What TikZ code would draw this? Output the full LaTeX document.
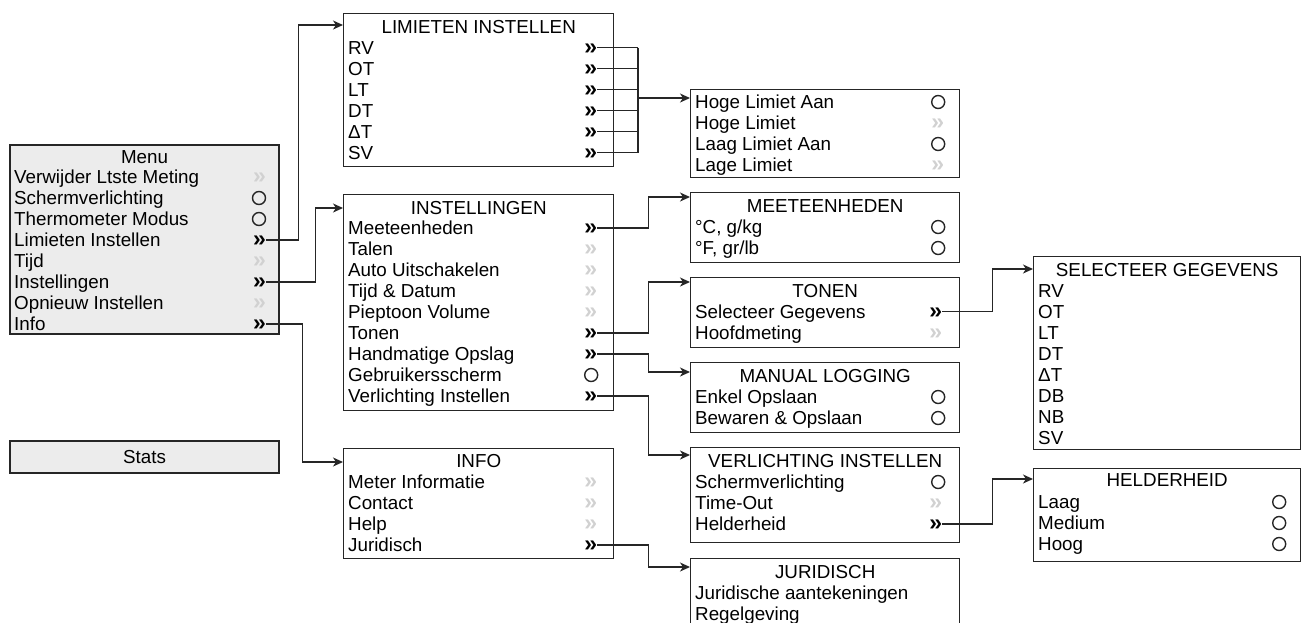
\documentclass[tikz,border=0pt]{standalone}
\usepackage{fontspec}
\setmainfont{Liberation Sans}
\usetikzlibrary{arrows.meta, positioning}
\tikzset{
  mn box/.style={
    rectangle, draw=black!85, line width=1.4pt,
    anchor=north west, inner sep=0pt
  },
  mn main/.style={
    mn box, fill=gray!15, line width=2.2pt
  },
  mn title/.style={
    inner sep=0pt, text height=13.2pt, text depth=0pt
  },
  mn item/.style={
    anchor=west, inner xsep=0pt, inner ysep=3.7pt,
    text height=13.2pt, text depth=0pt
  },
  mn more/.style={
    anchor=east, inner sep=0pt, text height=13.2pt, text depth=0pt,
    font=\fontsize{23}{23}\selectfont\bfseries
  },
  mn off/.style={
    mn more, text=black!18
  },
  mn opt/.style={
    circle, draw=black!85, line width=1.4pt,
    minimum size=13pt, inner sep=0pt, anchor=east
  },
  mn line/.style={
    line width=1.4pt, draw=black!85
  },
  mn arrow/.style={
    mn line, -{Stealth[length=10pt,width=9pt,inset=3pt]}
  }
}

\begin{document}
\begin{tikzpicture}[x=1pt, y=-1pt, node distance=0pt, font=\fontsize{18.8}{20}\selectfont]
  \useasboundingbox (0,0) rectangle (1301,622);
  \clip (0,0) rectangle (1301,622);

  % main menu
  \node (menu) [mn main, minimum width=269pt, minimum height=189pt] at (9,144) {};
  \node (menu-t) [mn title] at ([yshift=-13pt]menu.north) {Menu};
  \node (menu-ver) [mn item] at ([xshift=5pt,yshift=-33pt]menu.north west) {Verwijder Ltste Meting};
  \node (menu-sch) [mn item, below=of menu-ver.south west, anchor=north west] {Schermverlichting};
  \node (menu-the) [mn item, below=of menu-sch.south west, anchor=north west] {Thermometer Modus};
  \node (menu-lim) [mn item, below=of menu-the.south west, anchor=north west] {Limieten Instellen};
  \node (menu-tij) [mn item, below=of menu-lim.south west, anchor=north west] {Tijd};
  \node (menu-ins) [mn item, below=of menu-tij.south west, anchor=north west] {Instellingen};
  \node (menu-opn) [mn item, below=of menu-ins.south west, anchor=north west] {Opnieuw Instellen};
  \node (menu-inf) [mn item, below=of menu-opn.south west, anchor=north west] {Info};
  \node (menu-ver-m) [mn off, xshift=-14pt] at (menu.east |- menu-ver) {»};
  \node (menu-sch-m) [mn opt, xshift=-14pt] at (menu.east |- menu-sch) {};
  \node (menu-the-m) [mn opt, xshift=-14pt] at (menu.east |- menu-the) {};
  \node (menu-lim-m) [mn more, xshift=-14pt] at (menu.east |- menu-lim) {»};
  \node (menu-tij-m) [mn off, xshift=-14pt] at (menu.east |- menu-tij) {»};
  \node (menu-ins-m) [mn more, xshift=-14pt] at (menu.east |- menu-ins) {»};
  \node (menu-opn-m) [mn off, xshift=-14pt] at (menu.east |- menu-opn) {»};
  \node (menu-inf-m) [mn more, xshift=-14pt] at (menu.east |- menu-inf) {»};

  \node (stats) [mn main, minimum width=269pt, minimum height=32pt,
    text height=13.2pt, text depth=0pt] at (9,440) {Stats};

  % limieten instellen
  \node (lim) [mn box, minimum width=270pt, minimum height=153pt] at (343,13) {};
  \node (lim-t) [mn title] at ([yshift=-14pt]lim.north) {LIMIETEN INSTELLEN};
  \node (lim-rv) [mn item] at ([xshift=5pt,yshift=-34.5pt]lim.north west) {RV};
  \node (lim-ot) [mn item, below=of lim-rv.south west, anchor=north west] {OT};
  \node (lim-lt) [mn item, below=of lim-ot.south west, anchor=north west] {LT};
  \node (lim-dt) [mn item, below=of lim-lt.south west, anchor=north west] {DT};
  \node (lim-del) [mn item, below=of lim-dt.south west, anchor=north west] {ΔT};
  \node (lim-sv) [mn item, below=of lim-del.south west, anchor=north west] {SV};
  \node (lim-rv-m) [mn more, xshift=-17pt] at (lim.east |- lim-rv) {»};
  \node (lim-ot-m) [mn more, xshift=-17pt] at (lim.east |- lim-ot) {»};
  \node (lim-lt-m) [mn more, xshift=-17pt] at (lim.east |- lim-lt) {»};
  \node (lim-dt-m) [mn more, xshift=-17pt] at (lim.east |- lim-dt) {»};
  \node (lim-del-m) [mn more, xshift=-17pt] at (lim.east |- lim-del) {»};
  \node (lim-sv-m) [mn more, xshift=-17pt] at (lim.east |- lim-sv) {»};

  % instellingen
  \node (ins) [mn box, minimum width=270pt, minimum height=216pt] at (343,194) {};
  \node (ins-t) [mn title] at ([yshift=-14pt]ins.north) {INSTELLINGEN};
  \node (ins-mee) [mn item] at ([xshift=5pt,yshift=-34pt]ins.north west) {Meeteenheden};
  \node (ins-tal) [mn item, below=of ins-mee.south west, anchor=north west] {Talen};
  \node (ins-aut) [mn item, below=of ins-tal.south west, anchor=north west] {Auto Uitschakelen};
  \node (ins-tij) [mn item, below=of ins-aut.south west, anchor=north west] {Tijd \& Datum};
  \node (ins-pie) [mn item, below=of ins-tij.south west, anchor=north west] {Pieptoon Volume};
  \node (ins-ton) [mn item, below=of ins-pie.south west, anchor=north west] {Tonen};
  \node (ins-han) [mn item, below=of ins-ton.south west, anchor=north west] {Handmatige Opslag};
  \node (ins-geb) [mn item, below=of ins-han.south west, anchor=north west] {Gebruikersscherm};
  \node (ins-ver) [mn item, below=of ins-geb.south west, anchor=north west] {Verlichting Instellen};
  \node (ins-mee-m) [mn more, xshift=-17pt] at (ins.east |- ins-mee) {»};
  \node (ins-tal-m) [mn off, xshift=-17pt] at (ins.east |- ins-tal) {»};
  \node (ins-aut-m) [mn off, xshift=-17pt] at (ins.east |- ins-aut) {»};
  \node (ins-tij-m) [mn off, xshift=-17pt] at (ins.east |- ins-tij) {»};
  \node (ins-pie-m) [mn off, xshift=-17pt] at (ins.east |- ins-pie) {»};
  \node (ins-ton-m) [mn more, xshift=-17pt] at (ins.east |- ins-ton) {»};
  \node (ins-han-m) [mn more, xshift=-17pt] at (ins.east |- ins-han) {»};
  \node (ins-geb-m) [mn opt, xshift=-16pt] at (ins.east |- ins-geb) {};
  \node (ins-ver-m) [mn more, xshift=-17pt] at (ins.east |- ins-ver) {»};

  % info
  \node (inf) [mn box, minimum width=270pt, minimum height=110pt] at (343,448) {};
  \node (inf-t) [mn title] at ([yshift=-13pt]inf.north) {INFO};
  \node (inf-met) [mn item] at ([xshift=5pt,yshift=-34pt]inf.north west) {Meter Informatie};
  \node (inf-con) [mn item, below=of inf-met.south west, anchor=north west] {Contact};
  \node (inf-hel) [mn item, below=of inf-con.south west, anchor=north west] {Help};
  \node (inf-jur) [mn item, below=of inf-hel.south west, anchor=north west] {Juridisch};
  \node (inf-met-m) [mn off, xshift=-17pt] at (inf.east |- inf-met) {»};
  \node (inf-con-m) [mn off, xshift=-17pt] at (inf.east |- inf-con) {»};
  \node (inf-hel-m) [mn off, xshift=-17pt] at (inf.east |- inf-hel) {»};
  \node (inf-jur-m) [mn more, xshift=-17pt] at (inf.east |- inf-jur) {»};

  % limiet
  \node (hoge) [mn box, minimum width=269pt, minimum height=88pt] at (690,89) {};
  \node (hoge-ha) [mn item] at ([xshift=5pt,yshift=-13pt]hoge.north west) {Hoge Limiet Aan};
  \node (hoge-hl) [mn item, below=of hoge-ha.south west, anchor=north west] {Hoge Limiet};
  \node (hoge-la) [mn item, below=of hoge-hl.south west, anchor=north west] {Laag Limiet Aan};
  \node (hoge-ll) [mn item, below=of hoge-la.south west, anchor=north west] {Lage Limiet};
  \node (hoge-ha-m) [mn opt, xshift=-15pt] at (hoge.east |- hoge-ha) {};
  \node (hoge-hl-m) [mn off, xshift=-16pt] at (hoge.east |- hoge-hl) {»};
  \node (hoge-la-m) [mn opt, xshift=-15pt] at (hoge.east |- hoge-la) {};
  \node (hoge-ll-m) [mn off, xshift=-16pt] at (hoge.east |- hoge-ll) {»};

  % meeteenheden
  \node (mee) [mn box, minimum width=269pt, minimum height=70pt] at (690,192) {};
  \node (mee-t) [mn title] at ([yshift=-14pt]mee.north) {MEETEENHEDEN};
  \node (mee-c) [mn item] at ([xshift=5pt,yshift=-35pt]mee.north west) {°C, g/kg};
  \node (mee-f) [mn item, below=of mee-c.south west, anchor=north west] {°F, gr/lb};
  \node (mee-c-m) [mn opt, xshift=-15pt] at (mee.east |- mee-c) {};
  \node (mee-f-m) [mn opt, xshift=-15pt] at (mee.east |- mee-f) {};

  % tonen
  \node (ton) [mn box, minimum width=269pt, minimum height=70pt] at (690,277) {};
  \node (ton-t) [mn title] at ([yshift=-14pt]ton.north) {TONEN};
  \node (ton-sel) [mn item] at ([xshift=5pt,yshift=-34.5pt]ton.north west) {Selecteer Gegevens};
  \node (ton-hoo) [mn item, below=of ton-sel.south west, anchor=north west] {Hoofdmeting};
  \node (ton-sel-m) [mn more, xshift=-18pt] at (ton.east |- ton-sel) {»};
  \node (ton-hoo-m) [mn off, xshift=-18pt] at (ton.east |- ton-hoo) {»};

  % manual logging
  \node (man) [mn box, minimum width=269pt, minimum height=70pt] at (690,362) {};
  \node (man-t) [mn title] at ([yshift=-14pt]man.north) {MANUAL LOGGING};
  \node (man-enk) [mn item] at ([xshift=5pt,yshift=-35pt]man.north west) {Enkel Opslaan};
  \node (man-bew) [mn item, below=of man-enk.south west, anchor=north west] {Bewaren \& Opslaan};
  \node (man-enk-m) [mn opt, xshift=-15pt] at (man.east |- man-enk) {};
  \node (man-bew-m) [mn opt, xshift=-15pt] at (man.east |- man-bew) {};

  % verlichting instellen
  \node (ver) [mn box, minimum width=269pt, minimum height=95pt] at (690,447) {};
  \node (ver-t) [mn title] at ([yshift=-14pt]ver.north) {VERLICHTING INSTELLEN};
  \node (ver-sch) [mn item] at ([xshift=5pt,yshift=-35pt]ver.north west) {Schermverlichting};
  \node (ver-tim) [mn item, below=of ver-sch.south west, anchor=north west] {Time-Out};
  \node (ver-hel) [mn item, below=of ver-tim.south west, anchor=north west] {Helderheid};
  \node (ver-sch-m) [mn opt, xshift=-15pt] at (ver.east |- ver-sch) {};
  \node (ver-tim-m) [mn off, xshift=-18pt] at (ver.east |- ver-tim) {»};
  \node (ver-hel-m) [mn more, xshift=-18pt] at (ver.east |- ver-hel) {»};

  % juridisch
  \node (jur) [mn box, minimum width=269pt, minimum height=90pt] at (690,558) {};
  \node (jur-t) [mn title] at ([yshift=-14pt]jur.north) {JURIDISCH};
  \node (jur-aan) [mn item] at ([xshift=5pt,yshift=-35pt]jur.north west) {Juridische aantekeningen};
  \node (jur-reg) [mn item, below=of jur-aan.south west, anchor=north west] {Regelgeving};

  % selecteer gegevens
  \node (sel) [mn box, minimum width=267pt, minimum height=193pt] at (1033,256) {};
  \node (sel-t) [mn title] at ([yshift=-14pt]sel.north) {SELECTEER GEGEVENS};
  \node (sel-rv) [mn item] at ([xshift=5pt,yshift=-35pt]sel.north west) {RV};
  \node (sel-ot) [mn item, below=of sel-rv.south west, anchor=north west] {OT};
  \node (sel-lt) [mn item, below=of sel-ot.south west, anchor=north west] {LT};
  \node (sel-dt) [mn item, below=of sel-lt.south west, anchor=north west] {DT};
  \node (sel-del) [mn item, below=of sel-dt.south west, anchor=north west] {ΔT};
  \node (sel-db) [mn item, below=of sel-del.south west, anchor=north west] {DB};
  \node (sel-nb) [mn item, below=of sel-db.south west, anchor=north west] {NB};
  \node (sel-sv) [mn item, below=of sel-nb.south west, anchor=north west] {SV};

  % helderheid
  \node (hel) [mn box, minimum width=267pt, minimum height=93pt] at (1033,468) {};
  \node (hel-t) [mn title] at ([yshift=-12pt]hel.north) {HELDERHEID};
  \node (hel-laa) [mn item] at ([xshift=5pt,yshift=-34pt]hel.north west) {Laag};
  \node (hel-med) [mn item, below=of hel-laa.south west, anchor=north west] {Medium};
  \node (hel-hoo) [mn item, below=of hel-med.south west, anchor=north west] {Hoog};
  \node (hel-laa-m) [mn opt, xshift=-15pt] at (hel.east |- hel-laa) {};
  \node (hel-med-m) [mn opt, xshift=-15pt] at (hel.east |- hel-med) {};
  \node (hel-hoo-m) [mn opt, xshift=-15pt] at (hel.east |- hel-hoo) {};

  % connectors from the menu
  \draw [mn arrow] (menu-lim-m.east) -- ++(32,0) |- ([yshift=-12pt]lim.north west);
  \draw [mn arrow] (menu-ins-m.east) -- ++(49,0) |- ([yshift=-14pt]ins.north west);
  \draw [mn arrow] (menu-inf-m.east) -- ++(36,0) |- ([yshift=-14pt]inf.north west);

  % limieten bus
  \coordinate (lim-bus) at (638,98);
  \draw [mn line] (lim-rv-m.east) -- (lim-rv-m.east -| lim-bus);
  \draw [mn line] (lim-ot-m.east) -- (lim-ot-m.east -| lim-bus);
  \draw [mn line] (lim-lt-m.east) -- (lim-lt-m.east -| lim-bus);
  \draw [mn line] (lim-dt-m.east) -- (lim-dt-m.east -| lim-bus);
  \draw [mn line] (lim-del-m.east) -- (lim-del-m.east -| lim-bus);
  \draw [mn line] (lim-sv-m.east) -- (lim-sv-m.east -| lim-bus);
  \draw [mn line] (lim-rv-m.east -| lim-bus) -- (lim-sv-m.east -| lim-bus);
  \draw [mn arrow] (lim-bus) -- (lim-bus -| hoge.west);

  % submenus
  \draw [mn arrow] (ins-mee-m.east) -- ++(51,0) |- ([yshift=-5pt]mee.north west);
  \draw [mn arrow] (ins-ton-m.east) -- ++(51,0) |- ([yshift=-5pt]ton.north west);
  \draw [mn arrow] (ins-han-m.east) -- ++(51,0) |- ([yshift=-10pt]man.north west);
  \draw [mn arrow] (ins-ver-m.east) -- ++(51,0) |- ([yshift=-8pt]ver.north west);
  \draw [mn arrow] (inf-jur-m.east) -- ++(51,0) |- ([yshift=-9pt]jur.north west);
  \draw [mn arrow] (ton-sel-m.east) -- ++(50,0) |- ([yshift=-13pt]sel.north west);
  \draw [mn arrow] (ver-hel-m.east) -- ++(50,0) |- ([yshift=-11pt]hel.north west);
\end{tikzpicture}
\end{document}
